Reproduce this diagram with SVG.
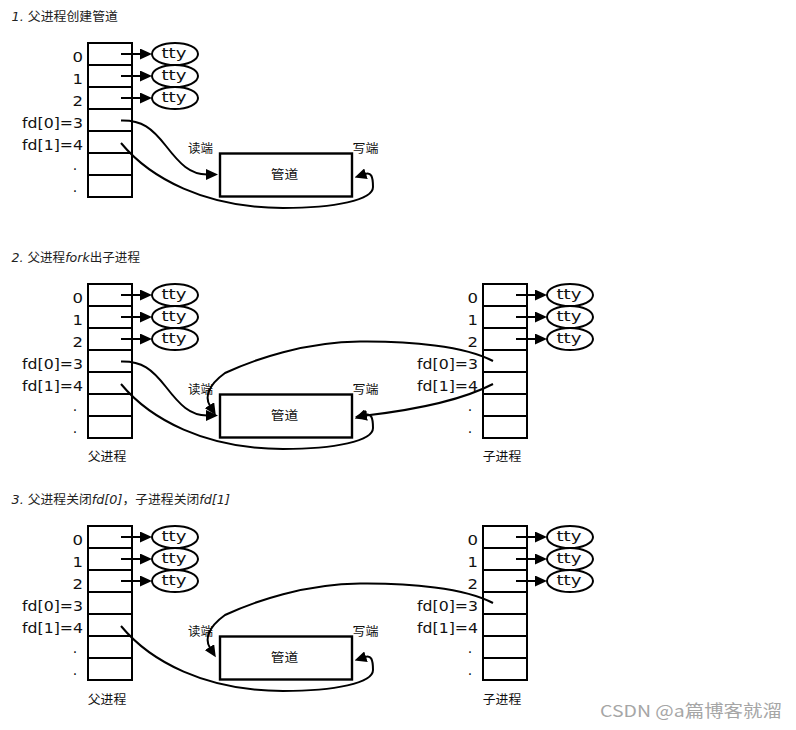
<svg xmlns="http://www.w3.org/2000/svg" width="796" height="730" viewBox="0 0 796 730">
<defs>
<marker id="ah" viewBox="0 0 12 11" refX="1" refY="5.5" markerWidth="12" markerHeight="11" orient="auto" markerUnits="userSpaceOnUse"><path d="M0,0L12,5.5L0,11z" fill="#000"/></marker>
<style>
.ln{fill:none;stroke:#000;stroke-width:2}
.arr{fill:none;stroke:#000;stroke-width:2;marker-end:url(#ah)}
.box{fill:#fff;stroke:#000;stroke-width:2}
.pipe{fill:#fff;stroke:#000;stroke-width:2.4}
.lbl{font-family:"DejaVu Sans",sans-serif;font-size:14px;fill:#111;text-anchor:end}
.dot{font-family:"DejaVu Sans",sans-serif;font-size:14px;fill:#111;text-anchor:middle}
.tty{font-family:"DejaVu Sans",sans-serif;font-size:14px;fill:#111;text-anchor:middle}
.cjk{font-family:"Noto Sans CJK SC",sans-serif;font-size:12.5px;fill:#111}
.mid{text-anchor:middle}
.ttl{font-family:"DejaVu Sans","Noto Sans CJK SC",sans-serif;font-size:12.5px;fill:#222}
.it{font-style:italic}
.wm{font-family:"Noto Sans CJK SC",sans-serif;font-size:16.5px;fill:#a6a6a6}
</style>
</defs>
<rect width="796" height="730" fill="#fff"/>

<!-- titles -->
<text id="title1" class="ttl" x="11.5" y="20.5" textLength="106.5" lengthAdjust="spacingAndGlyphs"><tspan class="it">1.</tspan> 父进程创建管道</text>
<text id="title2" class="ttl" x="11.5" y="262" textLength="128.5" lengthAdjust="spacingAndGlyphs"><tspan class="it">2.</tspan> 父进程<tspan class="it">fork</tspan>出子进程</text>
<text id="title3" class="ttl" x="11.5" y="504" textLength="218.5" lengthAdjust="spacingAndGlyphs"><tspan class="it">3.</tspan> 父进程关闭<tspan class="it">fd[0]</tspan>，子进程关闭<tspan class="it">fd[1]</tspan></text>

<!-- ===== Section 1 ===== -->
<g id="section1">
<g id="s1-parent">
<rect class="box" x="88" y="43" width="44" height="154"/>
<path class="ln" d="M88,65H132M88,87H132M88,109H132M88,131H132M88,153H132M88,175H132"/>
<text class="lbl" x="83" y="61.5" textLength="10.5" lengthAdjust="spacingAndGlyphs">0</text>
<text class="lbl" x="83" y="83.5" textLength="10.5" lengthAdjust="spacingAndGlyphs">1</text>
<text class="lbl" x="83" y="105.5" textLength="10.5" lengthAdjust="spacingAndGlyphs">2</text>
<text class="lbl" x="83" y="127.5" textLength="61" lengthAdjust="spacingAndGlyphs">fd[0]=3</text>
<text class="lbl" x="83" y="149.5" textLength="61" lengthAdjust="spacingAndGlyphs">fd[1]=4</text>
<text class="dot" x="75" y="170">.</text>
<text class="dot" x="75" y="192">.</text>
</g>
<g id="s1-tty0"><ellipse class="box" cx="175" cy="54" rx="23" ry="11"/><text class="tty" x="174" y="58" textLength="25" lengthAdjust="spacingAndGlyphs">tty</text></g>
<g id="s1-tty1"><ellipse class="box" cx="175" cy="76" rx="23" ry="11"/><text class="tty" x="174" y="80" textLength="25" lengthAdjust="spacingAndGlyphs">tty</text></g>
<g id="s1-tty2"><ellipse class="box" cx="175" cy="98" rx="23" ry="11"/><text class="tty" x="174" y="102" textLength="25" lengthAdjust="spacingAndGlyphs">tty</text></g>
<g id="s1-pipe">
<rect class="pipe" x="220" y="153.5" width="132" height="43"/>
<text class="cjk mid" x="284.5" y="178.5" textLength="27.5" lengthAdjust="spacingAndGlyphs">管道</text>
<text class="cjk" x="188" y="153" textLength="25" lengthAdjust="spacingAndGlyphs">读端</text>
<text class="cjk" x="352.5" y="153" textLength="26" lengthAdjust="spacingAndGlyphs">写端</text>
</g>
<g id="s1-connectors">
<path class="arr" d="M121,54H141"/>
<path class="arr" d="M121,76H141"/>
<path class="arr" d="M121,98H141"/>
<path class="arr" d="M121,120.5C142,120 152,128 166,146C180,164 190,174.5 207,174.5"/>
<path class="arr" d="M121,143C150,178 205,208 283,208C335,208 373,200 373,187C373,176 371,172 365,174"/>
</g>
</g>

<!-- ===== Section 2 ===== -->
<g id="section2" transform="translate(0,241)">
<g id="s2-parent">
<rect class="box" x="88" y="43" width="44" height="154"/>
<path class="ln" d="M88,65H132M88,87H132M88,109H132M88,131H132M88,153H132M88,175H132"/>
<text class="lbl" x="83" y="61.5" textLength="10.5" lengthAdjust="spacingAndGlyphs">0</text>
<text class="lbl" x="83" y="83.5" textLength="10.5" lengthAdjust="spacingAndGlyphs">1</text>
<text class="lbl" x="83" y="105.5" textLength="10.5" lengthAdjust="spacingAndGlyphs">2</text>
<text class="lbl" x="83" y="127.5" textLength="61" lengthAdjust="spacingAndGlyphs">fd[0]=3</text>
<text class="lbl" x="83" y="149.5" textLength="61" lengthAdjust="spacingAndGlyphs">fd[1]=4</text>
<text class="dot" x="75" y="170">.</text>
<text class="dot" x="75" y="192">.</text>
<text class="cjk mid" x="107" y="220" textLength="38.5" lengthAdjust="spacingAndGlyphs">父进程</text>
</g>
<g id="s2-tty0"><ellipse class="box" cx="175" cy="54" rx="23" ry="11"/><text class="tty" x="174" y="58" textLength="25" lengthAdjust="spacingAndGlyphs">tty</text></g>
<g id="s2-tty1"><ellipse class="box" cx="175" cy="76" rx="23" ry="11"/><text class="tty" x="174" y="80" textLength="25" lengthAdjust="spacingAndGlyphs">tty</text></g>
<g id="s2-tty2"><ellipse class="box" cx="175" cy="98" rx="23" ry="11"/><text class="tty" x="174" y="102" textLength="25" lengthAdjust="spacingAndGlyphs">tty</text></g>
<g id="s2-pipe">
<rect class="pipe" x="220" y="153.5" width="132" height="43"/>
<text class="cjk mid" x="284.5" y="178.5" textLength="27.5" lengthAdjust="spacingAndGlyphs">管道</text>
<text class="cjk" x="188" y="153" textLength="25" lengthAdjust="spacingAndGlyphs">读端</text>
<text class="cjk" x="352.5" y="153" textLength="26" lengthAdjust="spacingAndGlyphs">写端</text>
</g>
<g id="s2-child">
<rect class="box" x="483" y="43" width="44" height="154"/>
<path class="ln" d="M483,65H527M483,87H527M483,109H527M483,131H527M483,153H527M483,175H527"/>
<text class="lbl" x="478" y="61.5" textLength="10.5" lengthAdjust="spacingAndGlyphs">0</text>
<text class="lbl" x="478" y="83.5" textLength="10.5" lengthAdjust="spacingAndGlyphs">1</text>
<text class="lbl" x="478" y="105.5" textLength="10.5" lengthAdjust="spacingAndGlyphs">2</text>
<text class="lbl" x="478" y="127.5" textLength="61" lengthAdjust="spacingAndGlyphs">fd[0]=3</text>
<text class="lbl" x="478" y="149.5" textLength="61" lengthAdjust="spacingAndGlyphs">fd[1]=4</text>
<text class="dot" x="470" y="170">.</text>
<text class="dot" x="470" y="192">.</text>
<text class="cjk mid" x="502" y="220" textLength="38.5" lengthAdjust="spacingAndGlyphs">子进程</text>
</g>
<g id="s2-ctty0"><ellipse class="box" cx="570" cy="54" rx="23" ry="11"/><text class="tty" x="569" y="58" textLength="25" lengthAdjust="spacingAndGlyphs">tty</text></g>
<g id="s2-ctty1"><ellipse class="box" cx="570" cy="76" rx="23" ry="11"/><text class="tty" x="569" y="80" textLength="25" lengthAdjust="spacingAndGlyphs">tty</text></g>
<g id="s2-ctty2"><ellipse class="box" cx="570" cy="98" rx="23" ry="11"/><text class="tty" x="569" y="102" textLength="25" lengthAdjust="spacingAndGlyphs">tty</text></g>
<g id="s2-connectors">
<path class="arr" d="M121,54H141"/>
<path class="arr" d="M121,76H141"/>
<path class="arr" d="M121,98H141"/>
<path class="arr" d="M516,54H536"/>
<path class="arr" d="M516,76H536"/>
<path class="arr" d="M516,98H536"/>
<path class="arr" d="M121,120.5C142,120 152,128 166,146C180,164 190,174.5 207,174.5"/>
<path class="arr" d="M121,143C150,178 205,208 283,208C335,208 373,200 373,187C373,176 371,172 365,174"/>
<path class="arr" d="M493,120C465,105 410,100 360,100.5C305,101 255,118 225,132C207,145 205,157 210,165"/>
<path class="arr" d="M493,143C470,155 430,167 366,174.5"/>
</g>
</g>

<!-- ===== Section 3 ===== -->
<g id="section3" transform="translate(0,483)">
<g id="s3-parent">
<rect class="box" x="88" y="43" width="44" height="154"/>
<path class="ln" d="M88,65H132M88,87H132M88,109H132M88,131H132M88,153H132M88,175H132"/>
<text class="lbl" x="83" y="61.5" textLength="10.5" lengthAdjust="spacingAndGlyphs">0</text>
<text class="lbl" x="83" y="83.5" textLength="10.5" lengthAdjust="spacingAndGlyphs">1</text>
<text class="lbl" x="83" y="105.5" textLength="10.5" lengthAdjust="spacingAndGlyphs">2</text>
<text class="lbl" x="83" y="127.5" textLength="61" lengthAdjust="spacingAndGlyphs">fd[0]=3</text>
<text class="lbl" x="83" y="149.5" textLength="61" lengthAdjust="spacingAndGlyphs">fd[1]=4</text>
<text class="dot" x="75" y="170">.</text>
<text class="dot" x="75" y="192">.</text>
<text class="cjk mid" x="107" y="220.5" textLength="38.5" lengthAdjust="spacingAndGlyphs">父进程</text>
</g>
<g id="s3-tty0"><ellipse class="box" cx="175" cy="54" rx="23" ry="11"/><text class="tty" x="174" y="58" textLength="25" lengthAdjust="spacingAndGlyphs">tty</text></g>
<g id="s3-tty1"><ellipse class="box" cx="175" cy="76" rx="23" ry="11"/><text class="tty" x="174" y="80" textLength="25" lengthAdjust="spacingAndGlyphs">tty</text></g>
<g id="s3-tty2"><ellipse class="box" cx="175" cy="98" rx="23" ry="11"/><text class="tty" x="174" y="102" textLength="25" lengthAdjust="spacingAndGlyphs">tty</text></g>
<g id="s3-pipe">
<rect class="pipe" x="220" y="153.5" width="132" height="43"/>
<text class="cjk mid" x="284.5" y="178.5" textLength="27.5" lengthAdjust="spacingAndGlyphs">管道</text>
<text class="cjk" x="188" y="153" textLength="25" lengthAdjust="spacingAndGlyphs">读端</text>
<text class="cjk" x="352.5" y="153" textLength="26" lengthAdjust="spacingAndGlyphs">写端</text>
</g>
<g id="s3-child">
<rect class="box" x="483" y="43" width="44" height="154"/>
<path class="ln" d="M483,65H527M483,87H527M483,109H527M483,131H527M483,153H527M483,175H527"/>
<text class="lbl" x="478" y="61.5" textLength="10.5" lengthAdjust="spacingAndGlyphs">0</text>
<text class="lbl" x="478" y="83.5" textLength="10.5" lengthAdjust="spacingAndGlyphs">1</text>
<text class="lbl" x="478" y="105.5" textLength="10.5" lengthAdjust="spacingAndGlyphs">2</text>
<text class="lbl" x="478" y="127.5" textLength="61" lengthAdjust="spacingAndGlyphs">fd[0]=3</text>
<text class="lbl" x="478" y="149.5" textLength="61" lengthAdjust="spacingAndGlyphs">fd[1]=4</text>
<text class="dot" x="470" y="170">.</text>
<text class="dot" x="470" y="192">.</text>
<text class="cjk mid" x="502" y="220.5" textLength="38.5" lengthAdjust="spacingAndGlyphs">子进程</text>
</g>
<g id="s3-ctty0"><ellipse class="box" cx="570" cy="54" rx="23" ry="11"/><text class="tty" x="569" y="58" textLength="25" lengthAdjust="spacingAndGlyphs">tty</text></g>
<g id="s3-ctty1"><ellipse class="box" cx="570" cy="76" rx="23" ry="11"/><text class="tty" x="569" y="80" textLength="25" lengthAdjust="spacingAndGlyphs">tty</text></g>
<g id="s3-ctty2"><ellipse class="box" cx="570" cy="98" rx="23" ry="11"/><text class="tty" x="569" y="102" textLength="25" lengthAdjust="spacingAndGlyphs">tty</text></g>
<g id="s3-connectors">
<path class="arr" d="M121,54H141"/>
<path class="arr" d="M121,76H141"/>
<path class="arr" d="M121,98H141"/>
<path class="arr" d="M516,54H536"/>
<path class="arr" d="M516,76H536"/>
<path class="arr" d="M516,98H536"/>
<path class="arr" d="M121,143C150,178 205,208 283,208C335,208 373,200 373,187C373,176 371,172 365,174"/>
<path class="arr" d="M493,120C465,105 410,100 360,100.5C305,101 255,118 225,132C207,145 205,157 210,165"/>
</g>
</g>

<text id="watermark" class="wm" x="600" y="717" textLength="182" lengthAdjust="spacingAndGlyphs">CSDN @a篇博客就溜</text>
</svg>
